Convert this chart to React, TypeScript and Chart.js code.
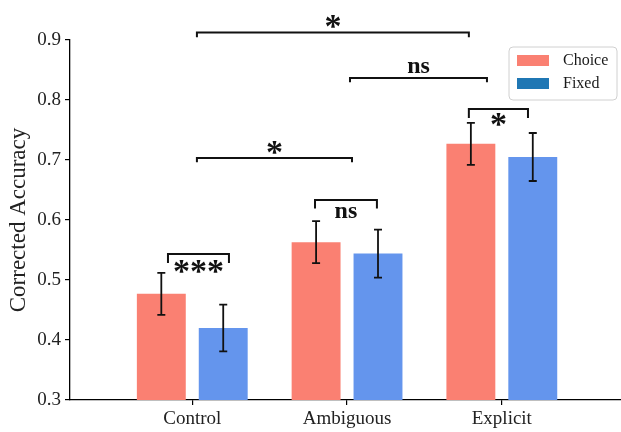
import React, { useEffect, useRef } from "react";
import { Chart, registerables } from "chart.js";

Chart.register(...registerables);

// ---------- data ----------
const categories = ["Control", "Ambiguous", "Explicit"];
const seriesLabels = ["Choice", "Fixed"];
const choiceMeans = [0.477, 0.563, 0.727];
const choiceErrors = [0.035, 0.035, 0.035];
const fixedMeans = [0.42, 0.544, 0.705];
const fixedErrors = [0.039, 0.04, 0.04];
const yTickValues = [0.3, 0.4, 0.5, 0.6, 0.7, 0.8, 0.9];

// significance brackets (x in category units, y in accuracy units)
const bracketStart = [-0.157, 0.793, 1.787, 0.03, 1.019, 0.03];
const bracketEnd = [0.237, 1.193, 2.169, 1.032, 1.904, 1.787];
const bracketLevel = [0.5433, 0.6333, 0.785, 0.7033, 0.8367, 0.9125];
const bracketDrop = [0.015, 0.014, 0.015, 0.007, 0.007, 0.008];
const bracketText = ["***", "ns", "*", "*", "ns", "*"];
const bracketTextLevel = [0.5233, 0.6125, 0.7683, 0.7208, 0.8542, 0.9308];

// ---------- styles ----------
const SERIF = "'Liberation Serif', 'Times New Roman', serif";
const barColors = ["#FA8072", "#6495ED"];
const legendColors = ["#FA8072", "#1f77b4"];

const errorBarPlugin = {
  id: "errorBars",
  afterDatasetsDraw(chart: any) {
    const ctx = chart.ctx;
    const y = chart.scales.y;
    const errs = [choiceErrors, fixedErrors];
    const means = [choiceMeans, fixedMeans];
    ctx.save();
    ctx.strokeStyle = "#111";
    ctx.lineWidth = 1.8;
    chart.data.datasets.forEach((_: any, di: number) => {
      const meta = chart.getDatasetMeta(di);
      meta.data.forEach((el: any, i: number) => {
        const top = y.getPixelForValue(means[di][i] + errs[di][i]);
        const bot = y.getPixelForValue(means[di][i] - errs[di][i]);
        const x = el.x;
        ctx.beginPath();
        ctx.moveTo(x, top);
        ctx.lineTo(x, bot);
        ctx.moveTo(x - 4, top);
        ctx.lineTo(x + 4, top);
        ctx.moveTo(x - 4, bot);
        ctx.lineTo(x + 4, bot);
        ctx.stroke();
      });
    });
    ctx.restore();
  },
};

const bracketPlugin = {
  id: "brackets",
  afterDatasetsDraw(chart: any) {
    const ctx = chart.ctx;
    const xs = chart.scales.x;
    const ys = chart.scales.y;
    ctx.save();
    ctx.strokeStyle = "#111";
    ctx.fillStyle = "#111";
    ctx.lineWidth = 2;
    ctx.lineJoin = "miter";
    ctx.textAlign = "center";
    ctx.textBaseline = "alphabetic";
    bracketText.forEach((txt, i) => {
      const x1 = xs.getPixelForValue(bracketStart[i]);
      const x2 = xs.getPixelForValue(bracketEnd[i]);
      const yl = ys.getPixelForValue(bracketLevel[i]);
      const yd = ys.getPixelForValue(bracketLevel[i] - bracketDrop[i]);
      ctx.beginPath();
      ctx.moveTo(x1, yd);
      ctx.lineTo(x1, yl);
      ctx.lineTo(x2, yl);
      ctx.lineTo(x2, yd);
      ctx.stroke();
      const isStar = txt.indexOf("*") >= 0;
      ctx.font = `bold ${isStar ? 34 : 24}px ${SERIF}`;
      const cy = ys.getPixelForValue(bracketTextLevel[i]);
      const m = ctx.measureText(txt);
      const base = cy + (m.actualBoundingBoxAscent - m.actualBoundingBoxDescent) / 2;
      ctx.fillText(txt, (x1 + x2) / 2, base);
    });
    ctx.restore();
  },
};

const legendPlugin = {
  id: "customLegend",
  afterDraw(chart: any) {
    const ctx = chart.ctx;
    const a = chart.chartArea;
    const bw = 108;
    const bh = 53;
    const bx = a.right - 112;
    const by = a.top + 7;
    ctx.save();
    ctx.beginPath();
    if (ctx.roundRect) ctx.roundRect(bx, by, bw, bh, 4);
    else ctx.rect(bx, by, bw, bh);
    ctx.fillStyle = "rgba(255,255,255,0.85)";
    ctx.fill();
    ctx.strokeStyle = "#d0d0d0";
    ctx.lineWidth = 1;
    ctx.stroke();
    ctx.font = `16px ${SERIF}`;
    ctx.textAlign = "left";
    ctx.textBaseline = "middle";
    seriesLabels.forEach((lab, i) => {
      const py = by + 8 + i * 23;
      ctx.fillStyle = legendColors[i];
      ctx.fillRect(bx + 8, py, 32, 11);
      ctx.fillStyle = "#1a1a1a";
      ctx.fillText(lab, bx + 54, py + 6);
    });
    ctx.restore();
  },
};

export default function App() {
  const ref = useRef<HTMLCanvasElement | null>(null);
  useEffect(() => {
    if (!ref.current) return;
    const chart = new Chart(ref.current, {
      type: "bar",
      data: {
        datasets: [
          {
            label: seriesLabels[0],
            data: choiceMeans.map((v, i) => ({ x: i, y: v })),
            backgroundColor: barColors[0],
            borderWidth: 0,
            categoryPercentage: 0.8,
            barPercentage: 0.79,
          },
          {
            label: seriesLabels[1],
            data: fixedMeans.map((v, i) => ({ x: i, y: v })),
            backgroundColor: barColors[1],
            borderWidth: 0,
            categoryPercentage: 0.8,
            barPercentage: 0.79,
          },
        ],
      } as any,
      options: {
        animation: false,
        responsive: true,
        maintainAspectRatio: false,
        layout: { padding: { top: 40, left: 0, right: 0, bottom: 0 } },
        plugins: { legend: { display: false }, tooltip: { enabled: false } },
        scales: {
          x: {
            type: "linear",
            min: -0.79,
            max: 2.77,
            offset: false,
            grid: {
              display: true,
              drawOnChartArea: false,
              drawTicks: true,
              tickLength: 5,
              color: "#000",
              lineWidth: 1.2,
              offset: false,
            },
            border: { display: true, color: "#000", width: 1.3 },
            ticks: {
              font: { family: SERIF, size: 19 },
              color: "#222",
              padding: 3,
              autoSkip: false,
              maxRotation: 0,
              callback: (v: any) => categories[v as number] ?? "",
            },
            afterBuildTicks: (s: any) => {
              s.ticks = categories.map((_, i) => ({ value: i }));
            },
            afterFit: (s: any) => {
              s.height = 32;
            },
          },
          y: {
            min: 0.3,
            max: 0.9,
            grid: {
              display: true,
              drawOnChartArea: false,
              drawTicks: true,
              tickLength: 5,
              color: "#000",
              lineWidth: 1.2,
            },
            border: { display: true, color: "#000", width: 1.3 },
            ticks: {
              font: { family: SERIF, size: 19 },
              color: "#222",
              padding: 4,
              autoSkip: false,
              callback: (v: any) => Number(v).toFixed(1),
            },
            afterBuildTicks: (s: any) => {
              s.ticks = yTickValues.map((v) => ({ value: v }));
            },
            title: {
              display: true,
              text: "Corrected Accuracy",
              font: { family: SERIF, size: 23 },
              color: "#222",
              padding: { top: 5, bottom: 0 },
            },
            afterFit: (s: any) => {
              s.width = 70;
            },
          },
        },
      } as any,
      plugins: [errorBarPlugin, bracketPlugin, legendPlugin],
    });
    return () => chart.destroy();
  }, []);
  return (
    <div style={{ position: "fixed", left: 0, top: 0, width: 621, height: 432, background: "#fff" }}>
      <canvas ref={ref} />
    </div>
  );
}
